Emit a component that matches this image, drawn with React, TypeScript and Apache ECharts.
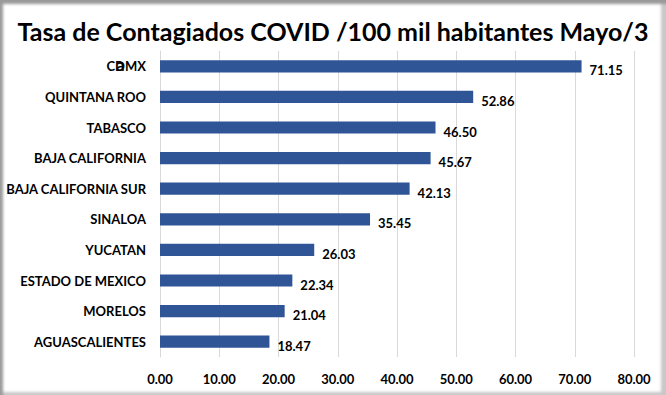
import React, { useEffect, useRef } from "react";
import * as echarts from "echarts";

const categories = [
  "CDMX",
  "QUINTANA ROO",
  "TABASCO",
  "BAJA CALIFORNIA",
  "BAJA CALIFORNIA SUR",
  "SINALOA",
  "YUCATAN",
  "ESTADO DE MEXICO",
  "MORELOS",
  "AGUASCALIENTES",
];
const values = [71.15, 52.86, 46.5, 45.67, 42.13, 35.45, 26.03, 22.34, 21.04, 18.47];
const titleText = "Tasa de Contagiados COVID /100 mil habitantes Mayo/3";

const FONT = "Lato, 'Liberation Sans', sans-serif";

export default function App() {
  const ref = useRef<HTMLDivElement>(null);
  useEffect(() => {
    document.body.style.margin = "0";
    const chart = echarts.init(ref.current!, null, { renderer: "svg" });
    chart.setOption({
      animation: false,
      title: {
        text: titleText,
        left: "center",
        top: 13,
        textStyle: { fontFamily: FONT, fontWeight: "bold", fontSize: 25, color: "#000" },
      },
      grid: { left: 160, right: 32, top: 51, bottom: 38, containLabel: false },
      xAxis: {
        type: "value",
        min: 0,
        max: 80,
        interval: 10,
        axisLine: { show: false },
        axisTick: { show: false },
        splitLine: { show: true, lineStyle: { color: "#d9d9d9", width: 1 } },
        axisLabel: {
          margin: 15,
          formatter: (v: number) => v.toFixed(2),
          fontFamily: FONT,
          fontWeight: "bold",
          fontSize: 13,
          color: "#000",
        },
      },
      yAxis: {
        type: "category",
        data: categories,
        inverse: true,
        axisLine: { show: true, lineStyle: { color: "#d9d9d9" } },
        axisTick: { show: false },
        axisLabel: {
          margin: 14,
          fontFamily: FONT,
          fontWeight: "bold",
          fontSize: 13,
          color: "#000",
        },
      },
      series: [
        {
          type: "bar",
          data: values,
          barWidth: "40%",
          itemStyle: { color: "#2F5597" },
          label: {
            show: true,
            position: "right",
            distance: 8,
            formatter: (p: any) => Number(p.value).toFixed(2),
            fontFamily: FONT,
            fontWeight: "bold",
            fontSize: 13,
            color: "#000",
            offset: [0, 4],
          },
        },
      ],
      graphic: [
        {
          type: "text",
          left: 116,
          top: 56,
          style: { text: "a", font: "bold 17px Lato, sans-serif", fill: "#000" },
        },
      ],
    });
    return () => chart.dispose();
  }, []);
  return (
    <div
      style={{
        position: "fixed",
        left: 0,
        top: 0,
        width: 666,
        height: 395,
        background: "#fff",
        boxShadow: "inset 3px 4px 3px #9a9a9a, inset -5px -3px 3px #c8c8c8",
      }}
    >
      <div ref={ref} style={{ width: 666, height: 395 }} />
    </div>
  );
}
